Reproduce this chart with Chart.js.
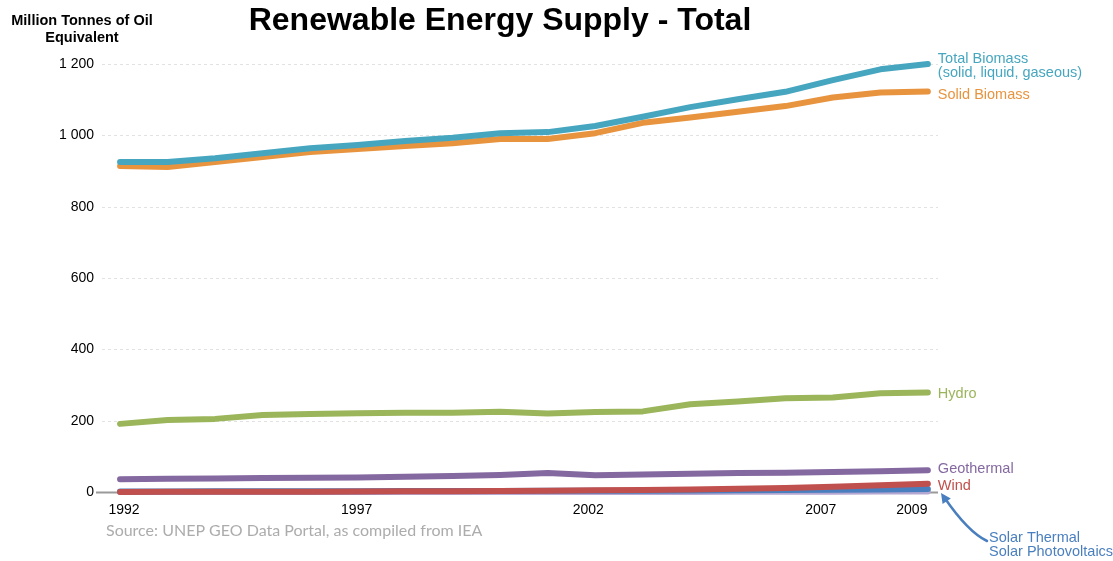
<!DOCTYPE html>
<html>
<head>
<meta charset="utf-8">
<script src="https://cdn.jsdelivr.net/npm/chart.js@4.4.1/dist/chart.umd.min.js"></script>
<style>
  html, body { margin: 0; padding: 0; background: #fff; }
  #wrap { width: 1113px; height: 561px; position: relative; }
</style>
</head>
<body>
<div id="wrap"><canvas id="chart" width="1113" height="561"></canvas></div>
<script>
const years = [1992, 1993, 1994, 1995, 1996, 1997, 1998, 1999, 2000, 2001, 2002, 2003, 2004, 2005, 2006, 2007, 2008, 2009]
const yearTicks = [1992, 1997, 2002, 2007, 2009]
const valueTicks = [0, 200, 400, 600, 800, 1000, 1200]

const totalBiomass = [925, 925, 936, 950, 964, 973, 984, 993, 1006, 1009, 1026, 1052, 1079, 1101, 1122, 1155, 1185, 1200]
const solidBiomass = [914, 911, 925, 939, 953, 962, 970, 978, 990, 990, 1006, 1035, 1050, 1066, 1082, 1106, 1120, 1123]
const hydro = [191, 202, 205, 216, 219, 221, 222, 222, 225, 220, 224, 226, 246, 254, 263, 265, 277, 279]
const geothermal = [36, 37, 38, 39, 40, 41, 43, 45, 48, 53, 47, 49, 51, 53, 54, 56, 58, 61]
const wind = [0.3, 0.4, 0.6, 0.7, 1.0, 1.3, 1.8, 2.3, 2.7, 3.7, 4.6, 5.5, 7.2, 9.0, 11.3, 14.6, 18.7, 23]
const solarThermal = [1.6, 1.7, 1.9, 2.0, 2.2, 2.4, 2.6, 2.8, 3.0, 3.3, 3.5, 3.8, 4.2, 4.7, 5.3, 6.1, 7.2, 8.5]
const solarPV = [0.0, 0.0, 0.1, 0.1, 0.1, 0.1, 0.1, 0.1, 0.1, 0.2, 0.2, 0.2, 0.3, 0.4, 0.5, 0.7, 1.1, 1.7]

const FONT = 'Liberation Sans, Arial, sans-serif'
// small nudges of the year labels, as in the original layout
const yearLabelShift = { 1992: 4, 1997: -1, 2002: -7, 2007: -12, 2009: -16 }

const series = (label, values, color, endLabel) => ({
  label,
  data: years.map((y, i) => ({ x: y, y: values[i] })),
  borderColor: color,
  backgroundColor: color,
  borderWidth: 6,
  borderCapStyle: 'round',
  borderJoinStyle: 'round',
  pointRadius: 0,
  pointHoverRadius: 0,
  tension: 0,
  clip: false,
  endLabel
})

// gridlines + zero line, drawn under the series
const gridPlugin = {
  id: 'grid',
  beforeDatasetsDraw (chart) {
    const { ctx, scales: { x, y }, chartArea } = chart
    ctx.save()
    valueTicks.forEach(v => {
      const py = Math.round(y.getPixelForValue(v)) + 0.5
      ctx.beginPath()
      if (v === 0) {
        ctx.strokeStyle = '#9a9a9a'
        ctx.lineWidth = 2
        ctx.setLineDash([])
        ctx.moveTo(chartArea.left - 6, py)
      } else {
        ctx.strokeStyle = '#e2e2e2'
        ctx.lineWidth = 1
        ctx.setLineDash([3, 3])
        ctx.moveTo(chartArea.left, py)
      }
      ctx.lineTo(chartArea.right + 3, py)
      ctx.stroke()
    })

    // year labels
    ctx.fillStyle = '#000'
    ctx.font = '14px ' + FONT
    ctx.textAlign = 'center'
    ctx.textBaseline = 'middle'
    yearTicks.forEach(v => {
      ctx.fillText(String(v), x.getPixelForValue(v) + yearLabelShift[v], chartArea.bottom + 18)
    })
    ctx.restore()
  }
}

// labels at line ends, titles, source, solar arrow
const textPlugin = {
  id: 'texts',
  afterDatasetsDraw (chart) {
    const { ctx, chartArea } = chart
    ctx.save()
    ctx.textBaseline = 'middle'
    ctx.textAlign = 'left'
    ctx.font = '14.5px ' + FONT
    chart.data.datasets.forEach((ds, i) => {
      if (!ds.endLabel) return
      const meta = chart.getDatasetMeta(i)
      const pt = meta.data[meta.data.length - 1]
      ctx.fillStyle = ds.borderColor
      ds.endLabel.lines.forEach((t, k) => {
        ctx.fillText(t, pt.x + 10, pt.y + ds.endLabel.dy + k * 13.5)
      })
    })

    // solar annotation
    const solarColor = '#4a7fbf'
    ctx.fillStyle = solarColor
    ctx.fillText('Solar Thermal', 989, 538)
    ctx.fillText('Solar Photovoltaics', 989, 552)
    const tip = { x: chartArea.right + 6, y: chart.scales.y.getPixelForValue(0) + 1 }
    const c = { x: 968, y: 532 }
    ctx.strokeStyle = solarColor
    ctx.lineWidth = 2.5
    ctx.lineCap = 'round'
    ctx.beginPath()
    ctx.moveTo(987, 541)
    ctx.quadraticCurveTo(c.x, c.y, tip.x + 3, tip.y + 4)
    ctx.stroke()
    const ang = Math.atan2(tip.y - c.y, tip.x - c.x)
    const L = 10, W = 5
    const bx = tip.x - L * Math.cos(ang), by = tip.y - L * Math.sin(ang)
    ctx.beginPath()
    ctx.moveTo(tip.x, tip.y)
    ctx.lineTo(bx + W * Math.sin(ang), by - W * Math.cos(ang))
    ctx.lineTo(bx - W * Math.sin(ang), by + W * Math.cos(ang))
    ctx.closePath()
    ctx.fill()

    // title
    ctx.fillStyle = '#000'
    ctx.textAlign = 'center'
    ctx.font = 'bold 32px ' + FONT
    ctx.fillText('Renewable Energy Supply - Total', 500, 21)

    // y axis title
    ctx.font = 'bold 14.5px ' + FONT
    ctx.fillText('Million Tonnes of Oil', 82, 21)
    ctx.fillText('Equivalent', 82, 38)

    // source
    ctx.textAlign = 'left'
    ctx.fillStyle = '#acacac'
    ctx.font = '16px Lato, sans-serif'
    ctx.fillText('Source: UNEP GEO Data Portal, as compiled from IEA', 106, 531)
    ctx.restore()
  }
}

const ctx = document.getElementById('chart')

const chart = new Chart(ctx, {
  type: 'line',
  data: {
    datasets: [
      series('Total Biomass', totalBiomass, '#46a6bf', { lines: ['Total Biomass', '(solid, liquid, gaseous)'], dy: -5 }),
      series('Solid Biomass', solidBiomass, '#e8943f', { lines: ['Solid Biomass'], dy: 4 }),
      series('Hydro', hydro, '#9bb55b', { lines: ['Hydro'], dy: 1.5 }),
      series('Geothermal', geothermal, '#8468a0', { lines: ['Geothermal'], dy: -1 }),
      series('Wind', wind, '#c0504d', { lines: ['Wind'], dy: 2.5 }),
      series('Solar Thermal', solarThermal, '#4a7fbf', null),
      series('Solar Photovoltaics', solarPV, '#b4a8d2', null)
    ]
  },
  options: {
    responsive: false,
    animation: false,
    events: [],
    layout: {
      padding: { left: 10, right: 178, top: 64, bottom: 0 }
    },
    plugins: {
      legend: { display: false },
      tooltip: { enabled: false },
      title: { display: false }
    },
    scales: {
      x: {
        type: 'linear',
        min: 1991.62,
        max: 2009.15,
        afterBuildTicks: (scale) => { scale.ticks = yearTicks.map(v => ({ value: v })) },
        afterFit: (scale) => { scale.height = 69 },
        grid: { display: false, drawTicks: false },
        border: { display: false },
        ticks: { display: false }
      },
      y: {
        min: 0,
        max: 1200,
        afterBuildTicks: (scale) => { scale.ticks = valueTicks.map(v => ({ value: v })) },
        afterFit: (scale) => { scale.width = 92 },
        grid: { display: false, drawTicks: false },
        border: { display: false },
        ticks: {
          padding: 8,
          color: '#000',
          font: { size: 14, family: FONT },
          callback: (v) => v >= 1000 ? Math.floor(v / 1000) + ' ' + String(v % 1000).padStart(3, '0') : String(v)
        }
      }
    }
  },
  plugins: [gridPlugin, textPlugin]
})
</script>
</body>
</html>
